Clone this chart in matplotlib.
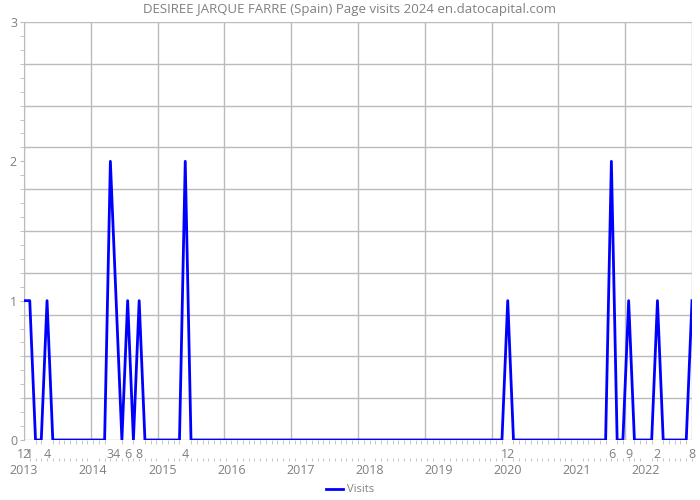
import matplotlib
matplotlib.use("Agg")
import matplotlib.pyplot as plt
import numpy as np
from matplotlib.lines import Line2D

# Monthly page visits, Dec 2012 .. Aug 2022
start_year, start_month = 2012, 12
visits = [1, 1, 0, 0, 1, 0, 0, 0, 0, 0, 0, 0, 0, 0, 0,   # Dec12..Feb14
          2, 1, 0, 1, 0, 1, 0, 0, 0, 0, 0, 0, 0,          # Mar14..Mar15
          2] + [0] * 55 + [                               # Apr15, May15..Nov19
          1] + [0] * 17 + [                               # Dec19, Jan20..May21
          2, 0, 0, 1, 0, 0, 0, 0, 1, 0, 0, 0, 0, 0, 1]    # Jun21..Aug22
years = [2013, 2014, 2015, 2016, 2017, 2018, 2019, 2020, 2021, 2022]
title = "DESIREE JARQUE FARRE (Spain) Page visits 2024 en.datocapital.com"

n = len(visits)
months = [((start_month - 1 + i) % 12) + 1 for i in range(n)]
x = np.arange(n)

plt.rcParams['font.family'] = ['Open Sans', 'DejaVu Sans']
grey = '#808080'
fig = plt.figure(figsize=(7, 5), dpi=100)
ax = fig.add_axes([24 / 700, 60 / 500, 668 / 700, 418 / 500])

ax.plot(x, visits, color='#0000ff', lw=2, zorder=3)
ax.set_xlim(0, n - 1)
ax.set_ylim(0, 3)

# grid: 10 equal divisions each way
for v in np.linspace(0, n - 1, 11):
    ax.axvline(v, color='#bbbbbb', lw=1, zorder=1)
for v in np.linspace(0, 3, 11):
    ax.axhline(v, color='#bbbbbb', lw=1, zorder=1)

for s in ['top', 'right', 'bottom']:
    ax.spines[s].set_visible(False)
ax.spines['left'].set_color('#bbbbbb')

ax.set_yticks([0, 1, 2, 3])
ax.set_yticks(np.arange(0, 3.01, 0.1), minor=True)
ax.tick_params(axis='y', which='both', colors='#bbbbbb', labelcolor=grey,
               labelsize=9, length=3, pad=2)

nz = [i for i in range(n) if visits[i] > 0]
ax.set_xticks(nz)
ax.set_xticklabels([str(months[i]) for i in nz])
ax.set_xticks(x, minor=True)
ax.tick_params(axis='x', which='major', length=0, labelcolor=grey,
               labelsize=9, pad=6)
ax.tick_params(axis='x', which='minor', length=3, color='#bbbbbb')

sec = ax.secondary_xaxis(-0.043)
sec.spines['bottom'].set_visible(False)
year_pos = [12 * (y - 2013) for y in years]
sec.set_xticks(year_pos)
sec.set_xticklabels([str(y) for y in years])
sec.set_xticks(x, minor=True)
sec.tick_params(axis='x', which='major', length=0, labelcolor=grey,
                labelsize=9, pad=4)
sec.tick_params(axis='x', which='minor', length=2, color='#bbbbbb')

fig.text(0.5, 0.982, title, ha='center', va='center', color=grey, fontsize=9.5)

fig.legend(handles=[Line2D([], [], color='#0000ff', lw=2)], labels=['Visits'],
           loc='center', bbox_to_anchor=(0.5, 0.02), frameon=False,
           fontsize=8, labelcolor=grey, handlelength=1.5, handletextpad=0.4)

fig.savefig('out.png', dpi=100)
